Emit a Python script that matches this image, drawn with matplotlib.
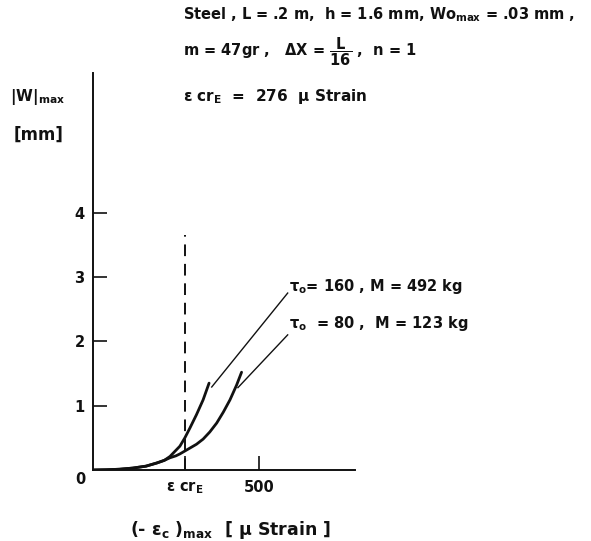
import matplotlib
matplotlib.use("Agg")
import matplotlib.pyplot as plt

EPS_CR = 276
x_tau160 = [0, 40, 80, 120, 160, 193, 215, 232, 262, 277, 292, 312, 332, 350]
w_tau160 = [0, 0.004, 0.012, 0.03, 0.06, 0.11, 0.15, 0.21, 0.37, 0.50, 0.65, 0.86, 1.09, 1.35]
x_tau80 = [0, 40, 80, 120, 160, 193, 215, 232, 250, 262, 282, 312, 332, 352, 373, 393, 413, 433, 448]
w_tau80 = [0, 0.004, 0.012, 0.03, 0.06, 0.11, 0.15, 0.19, 0.22, 0.25, 0.31, 0.40, 0.48, 0.59,
           0.73, 0.90, 1.09, 1.32, 1.52]

# leader lines (curve end -> label)
lead160 = ([358, 587], [1.29, 2.75])
lead80 = ([437, 587], [1.28, 2.10])

yticks = [1, 2, 3, 4]
xticks = [EPS_CR, 500]
xticklabels = [r"ε cr$_\mathregular{E}$", "500"]

INK = "#111111"
W, H = 591, 541
FS = 10.5

plt.rcParams.update({
    "font.family": "DejaVu Sans",
    "font.weight": "bold",
    "font.size": FS,
    "mathtext.fontset": "custom",
    "mathtext.rm": "DejaVu Sans:bold",
    "mathtext.it": "DejaVu Sans:bold",
    "mathtext.bf": "DejaVu Sans:bold",
    "text.color": INK,
})

fig = plt.figure(figsize=(W / 100, H / 100), dpi=100)


def px(x, y):
    return x / W, 1 - y / H


x0, y0 = px(93, 470)
x1, y1 = px(355, 73)
ax = fig.add_axes([x0, y0, x1 - x0, y1 - y0])
ax.set_xlim(0, 790)
ax.set_ylim(0, 6.17)
for s in ("top", "right"):
    ax.spines[s].set_visible(False)
for s in ("left", "bottom"):
    ax.spines[s].set_linewidth(1.4)
    ax.spines[s].set_color(INK)

ax.set_yticks(yticks, [str(t) for t in yticks], fontsize=FS)
ax.set_xticks(xticks, xticklabels, fontsize=FS)
ax.tick_params(direction="in", length=10, width=1.2, color=INK, labelcolor=INK)
ax.tick_params(axis="y", pad=6)
ax.tick_params(axis="x", pad=7)

ax.plot(x_tau160, w_tau160, color=INK, lw=2.0, solid_capstyle="round")
ax.plot(x_tau80, w_tau80, color=INK, lw=2.0, solid_capstyle="round")
ax.plot([EPS_CR, EPS_CR], [0, 3.65], color=INK, lw=1.4, ls=(0, (6, 4)))
ax.plot(*lead160, color=INK, lw=1.0, clip_on=False)
ax.plot(*lead80, color=INK, lw=1.0, clip_on=False)

ax.text(592, 2.85, r"τ$_\mathregular{o}$= 160 , M = 492 kg", fontsize=FS,
        ha="left", va="center", clip_on=False)
ax.text(592, 2.28, r"τ$_\mathregular{o}$  = 80 ,  M = 123 kg", fontsize=FS,
        ha="left", va="center", clip_on=False)

# header block
fig.text(*px(183, 15), r"Steel , L = .2 m,  h = 1.6 mm, Wo$_\mathregular{max}$ = .03 mm ,",
         fontsize=FS, va="center")
fig.text(*px(183, 52), r"m = 47gr ,   ΔX = $\dfrac{\mathregular{L}}{\mathregular{16}}$ ,  n = 1",
         fontsize=FS, va="center")
fig.text(*px(183, 97), r"ε cr$_\mathregular{E}$  =  276  μ Strain", fontsize=FS + 0.5,
         va="center")

# axis titles
fig.text(*px(10, 97), r"|W|$_\mathregular{max}$", fontsize=FS + 0.5, va="center")
fig.text(*px(14, 135), "[mm]", fontsize=FS + 1.5, va="center")
fig.text(*px(80, 480), "0", fontsize=FS, va="center", ha="center")
fig.text(*px(230, 530), r"(- ε$_\mathregular{c}$ )$_\mathregular{max}$  [ μ Strain ]",
         fontsize=FS + 2, va="center", ha="center")

fig.savefig("out.png", dpi=100)
